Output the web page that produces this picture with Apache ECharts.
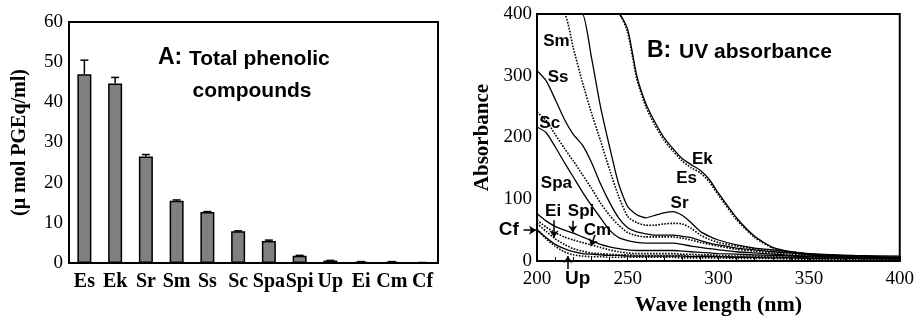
<!DOCTYPE html>
<html>
<head>
<meta charset="utf-8">
<script src="https://cdn.jsdelivr.net/npm/echarts@6/dist/echarts.min.js"></script>
<style>
html, body { margin: 0; padding: 0; background: #fff; }
#main { width: 917px; height: 321px; }
</style>
</head>
<body>
<div id="main"></div>
<script>
// A: total phenolic compounds
const extracts = ['Es', 'Ek', 'Sr', 'Sm', 'Ss', 'Sc', 'Spa', 'Spi', 'Up', 'Ei', 'Cm', 'Cf'];
const phenolic = [47.0, 44.7, 26.5, 15.5, 12.7, 7.9, 5.5, 1.8, 0.6, 0.3, 0.3, 0.1];
const phenolicErr = [3.5, 1.5, 0.5, 0.2, 0.1, 0.1, 0.2, 0.1, 0.05, 0.05, 0.05, 0.02];

// B: UV absorbance spectra
const wavelength = [200, 205, 210, 215, 220, 225, 230, 235, 240, 245, 250, 255, 260, 265, 270, 275, 280, 285, 290, 295, 300, 310, 320, 330, 340, 350, 375, 400];
const absEk  = [400, 400, 400, 400, 400, 400, 400, 400, 400, 400, 375, 300, 255, 225, 200, 182, 166, 156, 147, 132, 110, 70, 40, 22, 15, 12, 9, 8];
const absEs  = [400, 400, 400, 400, 400, 400, 400, 400, 400, 400, 370, 295, 250, 220, 196, 178, 162, 151, 143, 128, 107, 67, 38, 21, 14, 11, 8, 7];
const absSr  = [400, 400, 400, 400, 400, 400, 330, 250, 185, 125, 88, 75, 70, 74, 78, 80, 74, 62, 48, 40, 34, 26, 21, 18, 15, 11, 8, 6];
const absSm  = [400, 400, 400, 400, 345, 290, 240, 195, 148, 105, 72, 62, 58, 58, 60, 61, 60, 53, 42, 35, 30, 24, 20, 17, 14, 11, 7, 5];
const absSs  = [308, 292, 262, 230, 205, 188, 160, 125, 95, 70, 54, 47, 44, 42, 42, 42, 40, 38, 33, 29, 26, 21, 18, 15, 13, 10, 7, 5];
const absSc  = [241, 228, 205, 183, 162, 140, 118, 94, 74, 58, 46, 41, 39, 39, 39, 39, 37, 34, 30, 27, 24, 19, 16, 13, 11, 9, 6, 5];
const absSpa = [217, 208, 185, 160, 136, 112, 90, 70, 50, 38, 33, 30, 29, 29, 29, 29, 27, 24, 22, 20, 18, 15, 13, 11, 9, 8, 6, 4];
const absSpi = [77, 65, 56, 50, 45, 39, 33, 27, 23, 20, 18, 17, 17, 17, 17, 17, 16, 15, 14, 13, 12, 11, 10, 9, 8, 7, 5, 4];
const absCm  = [66, 55, 46, 39, 34, 30, 26, 22, 18, 15, 13, 12, 12, 12, 12, 12, 11, 11, 10, 10, 9, 8, 8, 7, 6, 6, 5, 4];
const absEi  = [61, 48, 36, 27, 20, 16, 13, 12, 11, 10, 10, 9, 9, 9, 9, 9, 9, 8, 8, 8, 7, 7, 6, 6, 5, 5, 4, 3];
const absCf  = [50, 38, 27, 20, 15, 12, 11, 10, 9, 9, 8, 8, 8, 8, 8, 8, 8, 7, 7, 7, 7, 6, 6, 5, 5, 4, 4, 3];
const absUp  = [52, 36, 24, 15, 10, 8, 7, 7, 6, 6, 6, 6, 6, 6, 6, 6, 5, 5, 5, 5, 5, 4, 4, 4, 3, 3, 3, 2];

// curve labels in data coords (wavelength, absorbance)
const curveNames = ['Sm', 'Ss', 'Sc', 'Spa', 'Ek', 'Es', 'Sr', 'Ei', 'Spi', 'Cm', 'Cf', 'Up'];
const labelWl  = [210.7, 211.6, 207, 210.7, 291.2, 282.5, 278.6, 208.9, 224.3, 233.3, 184.5, 222.4];
const labelAbs = [356, 297, 223, 126, 164, 134, 93, 80, 80, 50, 50, -28];
// arrows pointing at the small curves
const arrowFrom = [[192.6, 50], [209.4, 66], [219.7, 65], [232, 42], [217, -13]];
const arrowTo   = [[199.5, 50], [209.4, 38], [219.7, 46], [229.7, 24], [217, 8]];

const serif = '"Liberation Serif", "Times New Roman", serif';
const sans = '"Liberation Sans", Arial, sans-serif';

const spectra = [
  ['Ek', absEk, 'solid'], ['Es', absEs, 'dotted'],
  ['Sr', absSr, 'solid'], ['Sm', absSm, 'dotted'],
  ['Ss', absSs, 'solid'], ['Sc', absSc, 'dotted'],
  ['Spa', absSpa, 'solid'], ['Spi', absSpi, 'solid'],
  ['Cm', absCm, 'dotted'], ['Ei', absEi, 'dotted'],
  ['Cf', absCf, 'solid'], ['Up', absUp, 'dotted']
];

const chart = echarts.init(document.getElementById('main'));

const lineSeries = spectra.map(s => ({
  name: s[0],
  type: 'line',
  xAxisIndex: 1,
  yAxisIndex: 1,
  symbol: 'none',
  smooth: 0.2,
  data: wavelength.map((w, i) => [w, s[1][i]]),
  lineStyle: {
    color: '#000',
    width: s[2] === 'solid' ? 1.3 : 1.6,
    type: s[2] === 'solid' ? 'solid' : [1.6, 1.4]
  }
}));

// labels outside the plot (Cf, Up) are a bit bigger
const outside = ['Cf', 'Up'];

const option = {
  animation: false,
  backgroundColor: '#fff',
  grid: [
    { left: 69, top: 22, width: 369, height: 241, show: true, borderColor: '#000', borderWidth: 2 },
    { left: 537, top: 14, width: 368, height: 247, show: true, borderColor: '#000', borderWidth: 2 }
  ],
  xAxis: [{
    gridIndex: 0,
    type: 'category',
    data: extracts,
    axisLine: { lineStyle: { color: '#000', width: 2 } },
    axisTick: { inside: true, length: 4, lineStyle: { color: '#000', width: 1.5 } },
    axisLabel: { interval: 0, margin: 9, color: '#000', fontFamily: serif, fontWeight: 'bold', fontSize: 20 }
  }, {
    gridIndex: 1,
    type: 'value',
    min: 200, max: 400, interval: 50,
    name: 'Wave length (nm)',
    nameLocation: 'middle',
    nameGap: 33,
    nameTextStyle: { color: '#000', fontFamily: serif, fontWeight: 'bold', fontSize: 22 },
    axisLine: { lineStyle: { color: '#000', width: 2 } },
    axisTick: { inside: true, length: 5, lineStyle: { color: '#000', width: 1 } },
    minorTick: { show: true, splitNumber: 5, length: 4, lineStyle: { color: '#000', width: 1 } },
    splitLine: { show: false },
    axisLabel: { margin: 9, color: '#000', fontFamily: serif, fontSize: 19 }
  }],
  yAxis: [{
    gridIndex: 0,
    type: 'value',
    min: 0, max: 60, interval: 10,
    name: '(μ mol PGEq/ml)',
    nameLocation: 'middle',
    nameRotate: 90,
    nameGap: 39,
    nameTextStyle: { color: '#000', fontFamily: serif, fontWeight: 'bold', fontSize: 20 },
    axisLine: { show: true, lineStyle: { color: '#000', width: 2 } },
    axisTick: { show: false },
    splitLine: { show: false },
    axisLabel: { margin: 6, color: '#000', fontFamily: serif, fontSize: 19 }
  }, {
    gridIndex: 1,
    type: 'value',
    min: 0, max: 400, interval: 100,
    name: 'Absorbance',
    nameLocation: 'middle',
    nameRotate: 90,
    nameGap: 44,
    nameTextStyle: { color: '#000', fontFamily: serif, fontWeight: 'bold', fontSize: 21 },
    axisLine: { show: true, lineStyle: { color: '#000', width: 2 } },
    axisTick: { show: false },
    splitLine: { show: false },
    axisLabel: { margin: 5, color: '#000', fontFamily: serif, fontSize: 19 }
  }],
  graphic: [
    { type: 'text', x: 158, y: 58, style: { text: 'A:', font: 'bold 23px ' + sans, fill: '#000', verticalAlign: 'middle' } },
    { type: 'text', x: 189, y: 59, style: { text: 'Total phenolic', font: 'bold 21px ' + sans, fill: '#000', verticalAlign: 'middle' } },
    { type: 'text', x: 252, y: 91, style: { text: 'compounds', font: 'bold 21px ' + sans, fill: '#000', align: 'center', verticalAlign: 'middle' } },
    { type: 'text', x: 647, y: 51, style: { text: 'B:', font: 'bold 23px ' + sans, fill: '#000', verticalAlign: 'middle' } },
    { type: 'text', x: 679, y: 52, style: { text: 'UV absorbance', font: 'bold 21px ' + sans, fill: '#000', verticalAlign: 'middle' } }
  ],
  series: [{
    type: 'bar',
    xAxisIndex: 0,
    yAxisIndex: 0,
    data: phenolic,
    barWidth: 14,
    itemStyle: { color: '#808080', borderColor: '#000', borderWidth: 1.5 }
  }, {
    type: 'custom',
    xAxisIndex: 0,
    yAxisIndex: 0,
    z: 5,
    data: extracts.map((c, i) => [i, phenolic[i], phenolicErr[i]]),
    renderItem: function (params, api) {
      const base = api.coord([api.value(0), api.value(1)]);
      const top = api.coord([api.value(0), api.value(1) + api.value(2)]);
      const style = { stroke: '#000', lineWidth: 1.5 };
      return {
        type: 'group',
        children: [
          { type: 'line', shape: { x1: base[0], y1: base[1], x2: top[0], y2: top[1] }, style: style },
          { type: 'line', shape: { x1: top[0] - 4, y1: top[1], x2: top[0] + 4, y2: top[1] }, style: style }
        ]
      };
    }
  }].concat(lineSeries).concat([{
    type: 'scatter',
    xAxisIndex: 1,
    yAxisIndex: 1,
    clip: false,
    symbolSize: 1,
    itemStyle: { color: 'rgba(0,0,0,0)', opacity: 1 },
    data: curveNames.map((n, i) => ({
      name: n,
      value: [labelWl[i], labelAbs[i]],
      label: { fontSize: outside.indexOf(n) >= 0 ? 19 : 17 }
    })),
    label: {
      show: true,
      position: 'inside',
      formatter: '{b}',
      color: '#000',
      opacity: 1,
      fontFamily: sans,
      fontWeight: 'bold',
      fontSize: 17
    },
    z: 10
  }, {
    type: 'lines',
    coordinateSystem: 'cartesian2d',
    xAxisIndex: 1,
    yAxisIndex: 1,
    clip: false,
    symbol: ['none', 'arrow'],
    symbolSize: 7,
    lineStyle: { color: '#000', width: 1.5, opacity: 1 },
    data: arrowFrom.map((p, i) => ({ coords: [p, arrowTo[i]] })),
    z: 10
  }])
};

chart.setOption(option);
</script>
</body>
</html>
